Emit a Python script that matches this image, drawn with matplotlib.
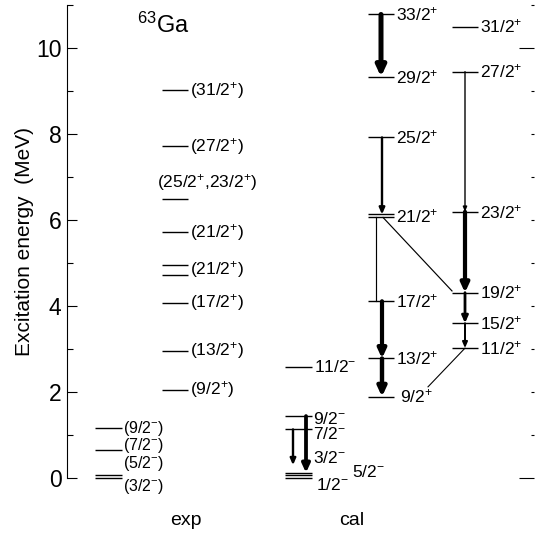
import matplotlib
matplotlib.use('Agg')
import matplotlib.pyplot as plt

plt.rcParams['font.family'] = 'Liberation Sans'
plt.rcParams['mathtext.fontset'] = 'custom'
plt.rcParams['mathtext.rm'] = 'Liberation Sans'
plt.rcParams['mathtext.it'] = 'Liberation Sans:italic'
plt.rcParams['mathtext.bf'] = 'Liberation Sans:bold'

# ---- level energies (MeV) and spins ----
exp_neg_e = [0.0, 0.075, 0.64, 1.16]
exp_neg_j = ['(3/2$^{-}$)', '(5/2$^{-}$)', '(7/2$^{-}$)', '(9/2$^{-}$)']

exp_pos_e = [2.05, 2.96, 4.08, 4.72, 4.95, 5.71, 6.49, 7.72, 9.02]
exp_pos_j = ['(9/2$^{+}$)', '(13/2$^{+}$)', '(17/2$^{+}$)', '', '(21/2$^{+}$)',
             '(21/2$^{+}$)', '(25/2$^{+}$,23/2$^{+}$)', '(27/2$^{+}$)',
             '(31/2$^{+}$)']

cal_neg_e = [0.0, 0.06, 0.12, 1.13, 1.44, 2.57]
cal_neg_j = ['1/2$^{-}$', '5/2$^{-}$', '3/2$^{-}$', '7/2$^{-}$', '9/2$^{-}$',
             '11/2$^{-}$']

cal_b1_e = [1.89, 2.78, 4.11, 6.06, 6.13, 7.92, 9.33, 10.78]
cal_b1_j = ['9/2$^{+}$', '13/2$^{+}$', '17/2$^{+}$', '', '21/2$^{+}$',
            '25/2$^{+}$', '29/2$^{+}$', '33/2$^{+}$']

cal_b2_e = [3.02, 3.60, 4.31, 6.19, 9.45, 10.50]
cal_b2_j = ['11/2$^{+}$', '15/2$^{+}$', '19/2$^{+}$', '23/2$^{+}$',
            '27/2$^{+}$', '31/2$^{+}$']

# calculated gamma transitions: initial E, final E, relative intensity
gam_ei = [10.78, 7.92, 6.06, 6.06, 4.11, 2.78, 9.45, 6.19, 4.31, 3.60, 3.02,
          1.44, 1.13]
gam_ef = [9.33, 6.13, 4.11, 4.31, 2.78, 1.89, 6.19, 4.31, 3.60, 3.02, 1.89,
          0.12, 0.12]
gam_rel = [1.0, 0.35, 0.05, 0.05, 0.8, 0.85, 0.1, 0.8, 0.45, 0.25, 0.03,
           0.7, 0.35]

# ---- layout (x in pixel-like units) ----
fig = plt.figure(figsize=(5.35, 5.33), dpi=100)
ax = fig.add_axes([67 / 535, 0, 467 / 535, 528 / 533])
ax.set_xlim(67, 534)
ax.set_ylim(-55 / 43, 11)


def draw_levels(x0, x1, xlab, energies, spins, dy=None, fs=12.5):
    dy = dy or {}
    for i, (e, j) in enumerate(zip(energies, spins)):
        ax.plot([x0, x1], [e, e], color='k', lw=1.0, solid_capstyle='butt')
        if j:
            xx, off = dy.get(i, (xlab, 0.0))
            ax.text(xx, e + off, j, ha='left', va='center', fontsize=fs)


draw_levels(95, 122, 123, exp_neg_e, exp_neg_j,
            {0: (123, -0.20), 1: (123, 0.26), 2: (123, 0.11)}, fs=11.5)
draw_levels(162, 188, 190, exp_pos_e, exp_pos_j,
            {4: (190, -0.11), 6: (157, 0.39)})
draw_levels(285, 312, 313, cal_neg_e, cal_neg_j,
            {0: (316, -0.16), 1: (352, 0.08), 2: (313, 0.35),
             3: (313, -0.11), 4: (313, -0.07), 5: (314, 0.0)})
draw_levels(368, 394, 396, cal_b1_e, cal_b1_j, {0: (400, 0.0), 4: (396, -0.04)})
draw_levels(452, 478, 480, cal_b2_e, cal_b2_j)

# transitions
gx0 = [381, 382, 376, 383, 382, 382, 465, 465, 465, 465, 465, 306, 293]
gx1 = [381, 382, 376, 452, 382, 382, 465, 465, 465, 465, 428, 306, 293]
gdy = [0, 0, 0, 0.04, 0, 0, 0, 0, 0, 0, 0.23, 0, 0.18]
heads = [True, True, False, False, True, True, True, True, True, True,
         False, True, True]
for x0, x1, ei, ef, rel, d, h in zip(gx0, gx1, gam_ei, gam_ef, gam_rel,
                                     gdy, heads):
    lw = 0.7 + 2.9 * rel
    if h:
        hl = 2.5 + 3.5 * rel
        hw = 1.0 + 1.8 * rel
        ax.annotate('', xy=(x1, ef + d), xytext=(x0, ei),
                    arrowprops=dict(arrowstyle='-|>,head_length=%.2f,head_width=%.2f' % (hl, hw),
                                    lw=lw, color='k', shrinkA=0, shrinkB=0,
                                    mutation_scale=1))
    else:
        ax.plot([x0, x1], [ei, ef + d], color='k', lw=lw)

ax.text(137, 10.35, '$^{63}$Ga', fontsize=17, va='baseline', ha='left')
ax.text(186, -0.98, 'exp', fontsize=14, ha='center', va='center')
ax.text(352, -0.98, 'cal', fontsize=14, ha='center', va='center')
ax.text(24.5, 5.51, 'Excitation energy  (MeV)', rotation=90, fontsize=15,
        ha='center', va='center', clip_on=False)

# axes styling
for s in ('top', 'bottom', 'right'):
    ax.spines[s].set_visible(False)
ax.spines['left'].set_bounds(0, 11)
ax.spines['left'].set_linewidth(0.8)
ax.set_xticks([])
ax.set_yticks(range(0, 11, 2))
ax.set_yticks(range(1, 12, 2), minor=True)
ax.tick_params(axis='y', which='major', direction='in', length=7.5,
               width=0.8, labelsize=16.5, pad=4)
ax.tick_params(axis='y', which='minor', direction='in', length=4.3, width=0.8)

ax2 = ax.twinx()
ax2.set_ylim(ax.get_ylim())
for s in ax2.spines.values():
    s.set_visible(False)
ax2.set_yticks([0, 10])
ax2.set_yticks([1, 2, 3, 4, 5, 6, 7, 8, 9, 11], minor=True)
ax2.tick_params(axis='y', which='major', direction='in', length=10.5,
                width=0.8, labelright=False)
ax2.tick_params(axis='y', which='minor', direction='in', length=2.2,
                width=0.8)

fig.savefig('out.png', dpi=100)
